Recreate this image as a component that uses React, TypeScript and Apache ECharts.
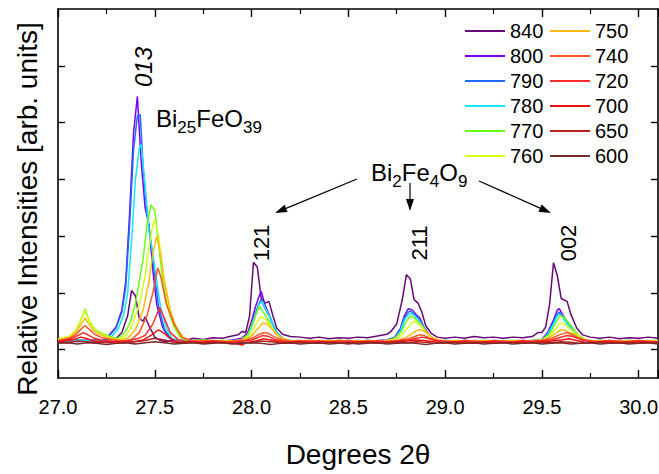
import React, { useEffect, useRef } from "react";
import * as echarts from "echarts";

const FONT = "'Liberation Sans', Arial, sans-serif";

const seriesNames = ["840", "800", "790", "780", "770", "760", "750", "740", "720", "700", "650", "600"];
const seriesColors = ["#650a75", "#7b00f5", "#1f6bff", "#14e6ff", "#66ff14", "#d6ff1a", "#ffbb10", "#ff5722", "#ff2a2a", "#ee1111", "#b81f1f", "#7a2b2b"];

const xTicks = [27.0, 27.5, 28.0, 28.5, 29.0, 29.5, 30.0];
const yTicks = [0, 1, 2, 3, 4, 5];

const s840 = [[27.0,0.2],[27.05,0.18],[27.1,0.17],[27.15,0.16],[27.2,0.17],[27.25,0.16],[27.3,0.2],[27.33,0.3],[27.36,0.6],[27.38,1.04],[27.4,0.95],[27.42,0.55],[27.44,0.5],[27.45,0.58],[27.47,0.42],[27.5,0.22],[27.53,0.16],[27.56,0.14],[27.6,0.17],[27.65,0.16],[27.7,0.2],[27.75,0.18],[27.8,0.21],[27.85,0.2],[27.9,0.24],[27.93,0.26],[27.95,0.32],[27.97,0.3],[27.99,0.6],[28.01,1.54],[28.03,1.45],[28.05,0.9],[28.07,0.82],[28.09,0.85],[28.11,0.6],[28.13,0.38],[28.16,0.27],[28.2,0.23],[28.25,0.22],[28.3,0.2],[28.35,0.22],[28.4,0.19],[28.45,0.21],[28.5,0.2],[28.55,0.22],[28.6,0.21],[28.65,0.24],[28.7,0.27],[28.72,0.32],[28.75,0.45],[28.78,0.9],[28.8,1.32],[28.82,1.25],[28.84,0.88],[28.86,0.82],[28.88,0.66],[28.9,0.42],[28.93,0.28],[28.96,0.22],[29.0,0.2],[29.05,0.22],[29.1,0.2],[29.15,0.23],[29.2,0.21],[29.25,0.22],[29.3,0.2],[29.35,0.22],[29.4,0.21],[29.45,0.23],[29.48,0.3],[29.5,0.3],[29.52,0.4],[29.54,0.8],[29.56,1.53],[29.58,1.3],[29.6,0.9],[29.63,0.85],[29.65,0.62],[29.68,0.38],[29.71,0.26],[29.75,0.22],[29.8,0.2],[29.85,0.22],[29.9,0.19],[29.95,0.21],[30.0,0.2],[30.05,0.22],[30.1,0.2]];

const s800 = [[27.0,0.16],[27.05,0.14],[27.1,0.15],[27.15,0.16],[27.2,0.14],[27.25,0.18],[27.27,0.28],[27.3,0.4],[27.33,0.7],[27.35,1.2],[27.37,2.4],[27.39,3.8],[27.41,4.46],[27.43,3.3],[27.45,2.5],[27.47,2.2],[27.49,1.4],[27.51,0.8],[27.54,0.4],[27.57,0.22],[27.6,0.15],[27.65,0.16],[27.7,0.14],[27.75,0.15],[27.8,0.16],[27.85,0.15],[27.9,0.17],[27.95,0.2],[27.98,0.3],[28.0,0.5],[28.02,0.75],[28.04,0.95],[28.05,1.03],[28.07,0.78],[28.09,0.62],[28.11,0.45],[28.13,0.3],[28.16,0.2],[28.2,0.15],[28.25,0.16],[28.3,0.14],[28.35,0.15],[28.4,0.16],[28.45,0.14],[28.5,0.16],[28.55,0.15],[28.6,0.14],[28.65,0.16],[28.7,0.17],[28.74,0.22],[28.77,0.38],[28.79,0.6],[28.81,0.72],[28.83,0.7],[28.85,0.62],[28.87,0.55],[28.89,0.4],[28.92,0.25],[28.95,0.17],[29.0,0.15],[29.05,0.14],[29.1,0.16],[29.15,0.15],[29.2,0.14],[29.25,0.16],[29.3,0.15],[29.35,0.14],[29.4,0.16],[29.45,0.15],[29.5,0.18],[29.53,0.3],[29.56,0.52],[29.58,0.7],[29.59,0.72],[29.61,0.6],[29.63,0.5],[29.65,0.42],[29.68,0.26],[29.72,0.17],[29.76,0.15],[29.8,0.16],[29.85,0.14],[29.9,0.15],[29.95,0.16],[30.0,0.14],[30.05,0.15],[30.1,0.16]];

const s790 = [[27.0,0.15],[27.05,0.16],[27.1,0.14],[27.15,0.15],[27.2,0.16],[27.25,0.17],[27.27,0.26],[27.3,0.38],[27.33,0.66],[27.35,1.1],[27.37,2.2],[27.39,3.5],[27.41,4.12],[27.425,4.14],[27.44,3.2],[27.46,2.4],[27.48,1.9],[27.5,1.3],[27.52,0.75],[27.55,0.36],[27.58,0.2],[27.62,0.15],[27.66,0.14],[27.7,0.16],[27.75,0.15],[27.8,0.14],[27.85,0.16],[27.9,0.15],[27.95,0.18],[27.98,0.26],[28.0,0.42],[28.02,0.64],[28.04,0.82],[28.05,0.88],[28.07,0.72],[28.09,0.6],[28.11,0.44],[28.13,0.3],[28.16,0.19],[28.2,0.15],[28.25,0.14],[28.3,0.16],[28.35,0.15],[28.4,0.14],[28.45,0.16],[28.5,0.15],[28.55,0.16],[28.6,0.14],[28.65,0.15],[28.7,0.16],[28.74,0.21],[28.77,0.36],[28.79,0.56],[28.81,0.66],[28.82,0.68],[28.84,0.63],[28.86,0.56],[28.88,0.44],[28.9,0.32],[28.93,0.2],[28.97,0.15],[29.0,0.16],[29.05,0.15],[29.1,0.14],[29.15,0.16],[29.2,0.15],[29.25,0.14],[29.3,0.16],[29.35,0.15],[29.4,0.14],[29.45,0.16],[29.5,0.17],[29.53,0.28],[29.56,0.48],[29.58,0.63],[29.59,0.66],[29.61,0.58],[29.63,0.46],[29.65,0.38],[29.68,0.24],[29.72,0.16],[29.76,0.15],[29.8,0.14],[29.85,0.16],[29.9,0.15],[29.95,0.14],[30.0,0.16],[30.05,0.15],[30.1,0.14]];

const s780 = [[27.0,0.14],[27.05,0.15],[27.1,0.17],[27.15,0.16],[27.2,0.15],[27.25,0.16],[27.28,0.24],[27.31,0.36],[27.34,0.62],[27.36,1.0],[27.38,1.9],[27.4,3.0],[27.42,3.55],[27.43,3.61],[27.45,2.9],[27.47,2.1],[27.49,1.7],[27.51,1.2],[27.53,0.75],[27.56,0.38],[27.59,0.2],[27.63,0.15],[27.67,0.16],[27.7,0.14],[27.75,0.16],[27.8,0.15],[27.85,0.14],[27.9,0.16],[27.95,0.17],[27.98,0.25],[28.0,0.4],[28.02,0.6],[28.04,0.8],[28.055,0.85],[28.07,0.74],[28.09,0.6],[28.11,0.45],[28.13,0.3],[28.16,0.19],[28.2,0.16],[28.25,0.15],[28.3,0.14],[28.35,0.16],[28.4,0.15],[28.45,0.14],[28.5,0.16],[28.55,0.15],[28.6,0.16],[28.65,0.14],[28.7,0.15],[28.74,0.2],[28.77,0.33],[28.79,0.52],[28.81,0.62],[28.825,0.64],[28.84,0.6],[28.86,0.54],[28.88,0.44],[28.9,0.32],[28.93,0.2],[28.97,0.16],[29.0,0.15],[29.05,0.14],[29.1,0.16],[29.15,0.15],[29.2,0.16],[29.25,0.14],[29.3,0.15],[29.35,0.16],[29.4,0.15],[29.45,0.14],[29.5,0.16],[29.53,0.26],[29.56,0.45],[29.58,0.6],[29.595,0.62],[29.61,0.56],[29.63,0.46],[29.65,0.38],[29.68,0.25],[29.72,0.17],[29.76,0.15],[29.8,0.16],[29.85,0.15],[29.9,0.14],[29.95,0.16],[30.0,0.15],[30.05,0.14],[30.1,0.16]];

const s770 = [[27.0,0.18],[27.03,0.2],[27.06,0.22],[27.09,0.32],[27.11,0.45],[27.13,0.62],[27.14,0.72],[27.16,0.52],[27.19,0.36],[27.22,0.3],[27.25,0.26],[27.28,0.22],[27.31,0.2],[27.34,0.28],[27.37,0.45],[27.4,0.8],[27.42,1.2],[27.44,1.6],[27.46,2.2],[27.48,2.55],[27.5,2.45],[27.52,1.85],[27.54,1.25],[27.57,0.7],[27.6,0.4],[27.63,0.22],[27.67,0.16],[27.7,0.15],[27.75,0.17],[27.8,0.15],[27.85,0.16],[27.9,0.14],[27.95,0.18],[27.98,0.26],[28.0,0.42],[28.02,0.6],[28.04,0.76],[28.06,0.66],[28.08,0.56],[28.1,0.43],[28.12,0.31],[28.15,0.2],[28.2,0.16],[28.25,0.15],[28.3,0.16],[28.35,0.14],[28.4,0.15],[28.45,0.16],[28.5,0.15],[28.55,0.14],[28.6,0.16],[28.65,0.15],[28.7,0.16],[28.74,0.2],[28.77,0.3],[28.8,0.5],[28.82,0.59],[28.84,0.56],[28.86,0.5],[28.88,0.42],[28.9,0.33],[28.93,0.21],[28.97,0.16],[29.0,0.15],[29.05,0.16],[29.1,0.14],[29.15,0.15],[29.2,0.16],[29.25,0.15],[29.3,0.14],[29.35,0.16],[29.4,0.15],[29.45,0.16],[29.5,0.17],[29.54,0.28],[29.57,0.46],[29.59,0.58],[29.6,0.6],[29.62,0.55],[29.64,0.46],[29.66,0.38],[29.69,0.25],[29.73,0.17],[29.77,0.15],[29.8,0.16],[29.85,0.14],[29.9,0.15],[29.95,0.16],[30.0,0.15],[30.05,0.16],[30.1,0.15]];

const s760 = [[27.0,0.19],[27.03,0.21],[27.06,0.24],[27.09,0.33],[27.11,0.46],[27.13,0.62],[27.14,0.7],[27.16,0.5],[27.19,0.35],[27.22,0.28],[27.25,0.24],[27.28,0.2],[27.31,0.18],[27.35,0.24],[27.38,0.4],[27.42,0.8],[27.45,1.3],[27.47,1.8],[27.49,2.2],[27.5,2.29],[27.52,2.0],[27.54,1.4],[27.57,0.8],[27.6,0.45],[27.64,0.22],[27.68,0.16],[27.72,0.15],[27.76,0.16],[27.8,0.14],[27.85,0.16],[27.9,0.15],[27.95,0.17],[27.99,0.24],[28.01,0.36],[28.03,0.5],[28.05,0.58],[28.07,0.54],[28.09,0.46],[28.11,0.36],[28.13,0.27],[28.16,0.19],[28.2,0.15],[28.25,0.16],[28.3,0.15],[28.35,0.14],[28.4,0.16],[28.45,0.15],[28.5,0.16],[28.55,0.14],[28.6,0.15],[28.65,0.16],[28.7,0.15],[28.75,0.19],[28.78,0.27],[28.81,0.4],[28.83,0.48],[28.84,0.5],[28.86,0.46],[28.88,0.4],[28.9,0.31],[28.93,0.21],[28.97,0.16],[29.0,0.15],[29.05,0.14],[29.1,0.16],[29.15,0.15],[29.2,0.14],[29.25,0.16],[29.3,0.15],[29.35,0.16],[29.4,0.14],[29.45,0.15],[29.5,0.16],[29.54,0.24],[29.57,0.36],[29.59,0.45],[29.6,0.47],[29.62,0.44],[29.64,0.38],[29.67,0.3],[29.7,0.21],[29.74,0.16],[29.78,0.15],[29.82,0.16],[29.86,0.14],[29.9,0.15],[29.95,0.16],[30.0,0.14],[30.05,0.15],[30.1,0.16]];

const s750 = [[27.0,0.17],[27.03,0.19],[27.06,0.22],[27.09,0.3],[27.11,0.4],[27.13,0.5],[27.14,0.56],[27.16,0.44],[27.19,0.32],[27.22,0.26],[27.25,0.22],[27.28,0.19],[27.32,0.17],[27.36,0.2],[27.4,0.35],[27.44,0.7],[27.47,1.2],[27.49,1.7],[27.51,1.99],[27.53,1.7],[27.55,1.2],[27.58,0.7],[27.61,0.4],[27.65,0.2],[27.69,0.15],[27.73,0.16],[27.77,0.14],[27.82,0.16],[27.87,0.15],[27.92,0.14],[27.96,0.17],[28.0,0.24],[28.03,0.36],[28.05,0.44],[28.06,0.47],[28.08,0.45],[28.1,0.38],[28.12,0.3],[28.15,0.21],[28.19,0.16],[28.24,0.15],[28.3,0.16],[28.35,0.14],[28.4,0.15],[28.45,0.16],[28.5,0.15],[28.55,0.16],[28.6,0.14],[28.65,0.15],[28.7,0.16],[28.76,0.17],[28.8,0.22],[28.83,0.28],[28.85,0.33],[28.87,0.35],[28.89,0.33],[28.91,0.28],[28.94,0.2],[28.98,0.16],[29.02,0.15],[29.07,0.16],[29.12,0.14],[29.17,0.15],[29.22,0.16],[29.27,0.15],[29.32,0.14],[29.37,0.16],[29.42,0.15],[29.47,0.16],[29.52,0.18],[29.55,0.24],[29.58,0.31],[29.6,0.35],[29.62,0.34],[29.64,0.3],[29.67,0.27],[29.7,0.2],[29.74,0.16],[29.78,0.15],[29.83,0.16],[29.88,0.14],[29.93,0.15],[29.98,0.16],[30.03,0.15],[30.1,0.14]];

const s740 = [[27.0,0.16],[27.03,0.18],[27.06,0.2],[27.09,0.26],[27.11,0.33],[27.13,0.4],[27.14,0.42],[27.16,0.36],[27.19,0.27],[27.22,0.22],[27.25,0.19],[27.29,0.17],[27.33,0.15],[27.38,0.18],[27.42,0.3],[27.46,0.6],[27.49,1.0],[27.515,1.44],[27.53,1.3],[27.56,0.8],[27.6,0.45],[27.64,0.22],[27.68,0.16],[27.72,0.14],[27.77,0.16],[27.82,0.15],[27.87,0.14],[27.92,0.16],[27.97,0.17],[28.01,0.21],[28.04,0.27],[28.07,0.3],[28.09,0.28],[28.12,0.22],[28.16,0.17],[28.2,0.15],[28.25,0.14],[28.3,0.16],[28.35,0.15],[28.4,0.14],[28.45,0.16],[28.5,0.15],[28.55,0.14],[28.6,0.16],[28.65,0.15],[28.7,0.14],[28.76,0.16],[28.81,0.19],[28.85,0.24],[28.87,0.26],[28.89,0.25],[28.92,0.2],[28.96,0.16],[29.0,0.15],[29.05,0.14],[29.1,0.16],[29.15,0.15],[29.2,0.14],[29.25,0.16],[29.3,0.15],[29.35,0.14],[29.4,0.16],[29.45,0.15],[29.5,0.16],[29.55,0.2],[29.59,0.26],[29.62,0.29],[29.63,0.3],[29.65,0.27],[29.68,0.22],[29.72,0.17],[29.76,0.15],[29.8,0.14],[29.85,0.16],[29.9,0.15],[29.95,0.14],[30.0,0.16],[30.05,0.15],[30.1,0.14]];

const s720 = [[27.0,0.15],[27.04,0.17],[27.08,0.21],[27.11,0.26],[27.13,0.3],[27.15,0.27],[27.18,0.21],[27.22,0.17],[27.27,0.15],[27.32,0.14],[27.37,0.16],[27.41,0.19],[27.45,0.25],[27.49,0.45],[27.525,0.74],[27.55,0.55],[27.58,0.3],[27.62,0.18],[27.66,0.14],[27.7,0.15],[27.75,0.13],[27.8,0.15],[27.85,0.14],[27.9,0.13],[27.95,0.15],[28.0,0.17],[28.03,0.21],[28.06,0.25],[28.09,0.23],[28.12,0.18],[28.16,0.15],[28.2,0.14],[28.25,0.15],[28.3,0.13],[28.35,0.15],[28.4,0.14],[28.45,0.13],[28.5,0.15],[28.55,0.14],[28.6,0.13],[28.65,0.15],[28.7,0.14],[28.76,0.15],[28.81,0.17],[28.85,0.2],[28.88,0.22],[28.91,0.2],[28.95,0.16],[29.0,0.14],[29.05,0.13],[29.1,0.15],[29.15,0.14],[29.2,0.13],[29.25,0.15],[29.3,0.14],[29.35,0.13],[29.4,0.15],[29.45,0.14],[29.5,0.15],[29.55,0.17],[29.59,0.21],[29.63,0.25],[29.66,0.23],[29.7,0.18],[29.74,0.15],[29.78,0.13],[29.83,0.15],[29.88,0.14],[29.93,0.13],[29.98,0.15],[30.04,0.14],[30.1,0.13]];

const s700 = [[27.0,0.14],[27.04,0.15],[27.08,0.18],[27.12,0.22],[27.15,0.19],[27.19,0.15],[27.24,0.13],[27.29,0.14],[27.34,0.12],[27.39,0.14],[27.44,0.17],[27.48,0.25],[27.52,0.35],[27.55,0.28],[27.59,0.18],[27.63,0.13],[27.68,0.14],[27.73,0.12],[27.78,0.14],[27.83,0.13],[27.88,0.12],[27.93,0.1],[27.95,0.08],[27.97,0.12],[28.02,0.15],[28.06,0.19],[28.1,0.17],[28.14,0.14],[28.19,0.12],[28.24,0.14],[28.29,0.13],[28.34,0.12],[28.39,0.14],[28.44,0.13],[28.49,0.11],[28.54,0.13],[28.59,0.14],[28.64,0.12],[28.69,0.13],[28.74,0.14],[28.8,0.15],[28.85,0.17],[28.89,0.16],[28.94,0.14],[28.99,0.12],[29.04,0.14],[29.09,0.13],[29.14,0.11],[29.19,0.13],[29.24,0.14],[29.29,0.12],[29.34,0.13],[29.39,0.14],[29.44,0.12],[29.49,0.13],[29.55,0.15],[29.6,0.17],[29.64,0.19],[29.68,0.16],[29.72,0.13],[29.77,0.12],[29.82,0.14],[29.87,0.13],[29.92,0.11],[29.97,0.13],[30.02,0.14],[30.06,0.12],[30.1,0.13]];

const s650 = [[27.0,0.13],[27.05,0.12],[27.1,0.15],[27.15,0.14],[27.2,0.12],[27.25,0.13],[27.3,0.11],[27.35,0.13],[27.4,0.14],[27.45,0.16],[27.5,0.2],[27.55,0.17],[27.6,0.13],[27.65,0.12],[27.7,0.13],[27.75,0.11],[27.8,0.13],[27.85,0.12],[27.9,0.11],[27.95,0.13],[28.0,0.12],[28.05,0.15],[28.1,0.14],[28.15,0.12],[28.2,0.11],[28.25,0.13],[28.3,0.12],[28.35,0.11],[28.4,0.13],[28.45,0.12],[28.5,0.1],[28.55,0.12],[28.6,0.13],[28.65,0.11],[28.7,0.12],[28.75,0.13],[28.8,0.12],[28.85,0.14],[28.9,0.13],[28.95,0.11],[29.0,0.12],[29.05,0.13],[29.1,0.11],[29.15,0.12],[29.2,0.13],[29.25,0.11],[29.3,0.12],[29.35,0.13],[29.4,0.11],[29.45,0.12],[29.5,0.13],[29.55,0.12],[29.6,0.14],[29.65,0.13],[29.7,0.11],[29.75,0.12],[29.8,0.13],[29.85,0.11],[29.9,0.12],[29.95,0.13],[30.0,0.11],[30.05,0.12],[30.1,0.13]];

const s600 = [[27.0,0.11],[27.05,0.12],[27.1,0.1],[27.15,0.12],[27.2,0.11],[27.25,0.09],[27.3,0.11],[27.35,0.12],[27.4,0.1],[27.45,0.12],[27.5,0.14],[27.55,0.12],[27.6,0.1],[27.65,0.11],[27.7,0.12],[27.75,0.1],[27.8,0.11],[27.85,0.12],[27.9,0.1],[27.95,0.11],[28.0,0.12],[28.05,0.11],[28.1,0.09],[28.15,0.11],[28.2,0.12],[28.25,0.1],[28.3,0.11],[28.35,0.12],[28.4,0.1],[28.45,0.11],[28.5,0.12],[28.55,0.1],[28.6,0.11],[28.65,0.12],[28.7,0.1],[28.75,0.11],[28.8,0.12],[28.85,0.11],[28.9,0.09],[28.95,0.11],[29.0,0.12],[29.05,0.1],[29.1,0.11],[29.15,0.12],[29.2,0.1],[29.25,0.11],[29.3,0.12],[29.35,0.1],[29.4,0.11],[29.45,0.12],[29.5,0.1],[29.55,0.11],[29.6,0.12],[29.65,0.1],[29.7,0.11],[29.75,0.12],[29.8,0.1],[29.85,0.11],[29.9,0.12],[29.95,0.1],[30.0,0.11],[30.05,0.12],[30.1,0.1]];

const seriesData = [s840, s800, s790, s780, s770, s760, s750, s740, s720, s700, s650, s600];

function arrowHead(x1: number, y1: number, x2: number, y2: number, len = 12, half = 4) {
  const dx = x2 - x1, dy = y2 - y1;
  const l = Math.hypot(dx, dy);
  const ux = dx / l, uy = dy / l;
  const bx = x2 - ux * len, by = y2 - uy * len;
  const nx = -uy, ny = ux;
  return {
    line: { type: "line", shape: { x1, y1, x2: bx, y2: by }, style: { stroke: "#000", lineWidth: 1.2 } },
    head: { type: "polygon", shape: { points: [[x2, y2], [bx + nx * half, by + ny * half], [bx - nx * half, by - ny * half]] }, style: { fill: "#000" } },
  };
}

export default function App() {
  const ref = useRef<HTMLDivElement>(null);
  useEffect(() => {
    if (!ref.current) return;
    const chart = echarts.init(ref.current, null, { renderer: "svg" });
    const a1 = arrowHead(357, 179, 275, 213);
    const a2 = arrowHead(410, 183, 410, 211);
    const a3 = arrowHead(479, 181, 551, 213);
    const axisLineStyle = { color: "#000", width: 1.6 };
    const xCommon = {
      type: "value",
      min: 27,
      max: 30.1,
      interval: 0.5,
      splitLine: { show: false },
      axisLine: { show: true, onZero: false, lineStyle: axisLineStyle },
      axisTick: { show: true, inside: true, length: 8, lineStyle: { color: "#000", width: 1.4 } },
      minorTick: { show: true, splitNumber: 2, length: 5, lineStyle: { color: "#000", width: 1.2 } },
    };
    const yCommon = {
      type: "value",
      min: -0.5,
      max: 6,
      splitLine: { show: false },
      axisLabel: { show: false },
      axisLine: { show: true, onZero: false, lineStyle: axisLineStyle },
      axisTick: { show: true, inside: true, length: 7, customValues: yTicks, lineStyle: { color: "#000", width: 1.4 } },
    };
    const legendCommon = {
      orient: "vertical",
      top: 21,
      padding: 0,
      icon: "rect",
      itemWidth: 40,
      itemHeight: 2,
      itemGap: 5,
      textStyle: { fontSize: 20, lineHeight: 20, color: "#000", fontFamily: FONT },
    };
    const richSub = {
      a: { fontSize: 24, lineHeight: 38, fontFamily: FONT, fill: "#000" },
      b: { fontSize: 17, lineHeight: 17, padding: [19, 0, 0, 0], fontFamily: FONT, fill: "#000" },
    };
    chart.setOption({
      animation: false,
      backgroundColor: "#fff",
      textStyle: { fontFamily: FONT },
      grid: { left: 58, top: 9, width: 600, height: 369, containLabel: false, outerBoundsMode: "none" },
      xAxis: [
        {
          ...xCommon,
          position: "bottom",
          name: "Degrees 2θ",
          nameLocation: "middle",
          nameGap: 62,
          nameTextStyle: { fontSize: 28, color: "#000", fontFamily: FONT },
          axisLabel: {
            show: true,
            fontSize: 20,
            color: "#000",
            margin: 19,
            fontFamily: FONT,
            customValues: xTicks,
            formatter: (v: number) => v.toFixed(1),
          },
        },
        { ...xCommon, position: "top", axisLabel: { show: false } },
      ],
      yAxis: [
        { ...yCommon, position: "left" },
        { ...yCommon, position: "right" },
      ],
      legend: [
        { ...legendCommon, data: seriesNames.slice(0, 6), left: 465 },
        { ...legendCommon, data: seriesNames.slice(6), left: 550 },
      ],
      series: seriesNames.map((name, i) => ({
        name,
        type: "line",
        data: seriesData[i],
        showSymbol: false,
        symbol: "none",
        color: seriesColors[i],
        lineStyle: { width: 1.5, color: seriesColors[i] },
        z: 2 + i,
      })),
      graphic: [
        {
          type: "text",
          x: 27,
          y: 209,
          rotation: Math.PI / 2,
          style: { text: "Relative Intensities [arb. units]", fontSize: 28, fontFamily: FONT, fill: "#000", align: "center", verticalAlign: "middle" },
        },
        {
          type: "text",
          x: 143,
          y: 67,
          rotation: Math.PI / 2,
          style: { text: "013", font: "italic 24px 'Liberation Sans', Arial, sans-serif", fontSize: 24, fontStyle: "italic", fontFamily: FONT, fill: "#000", align: "center", verticalAlign: "middle" },
        },
        {
          type: "text",
          x: 156,
          y: 118,
          style: { text: "{a|Bi}{b|25}{a|FeO}{b|39}", fontFamily: FONT, fill: "#000", align: "left", verticalAlign: "middle", rich: richSub },
        },
        {
          type: "text",
          x: 371,
          y: 172,
          style: { text: "{a|Bi}{b|2}{a|Fe}{b|4}{a|O}{b|9}", fontFamily: FONT, fill: "#000", align: "left", verticalAlign: "middle", rich: richSub },
        },
        { type: "text", x: 261, y: 243, rotation: Math.PI / 2, style: { text: "121", fontSize: 22, fontFamily: FONT, fill: "#000", align: "center", verticalAlign: "middle" } },
        { type: "text", x: 419, y: 243, rotation: Math.PI / 2, style: { text: "211", fontSize: 22, fontFamily: FONT, fill: "#000", align: "center", verticalAlign: "middle" } },
        { type: "text", x: 568, y: 243, rotation: Math.PI / 2, style: { text: "002", fontSize: 22, fontFamily: FONT, fill: "#000", align: "center", verticalAlign: "middle" } },
        a1.line, a1.head, a2.line, a2.head, a3.line, a3.head,
      ],
    });
    return () => chart.dispose();
  }, []);
  return <div ref={ref} style={{ width: 659, height: 474, position: "absolute", left: 0, top: 0 }} />;
}
